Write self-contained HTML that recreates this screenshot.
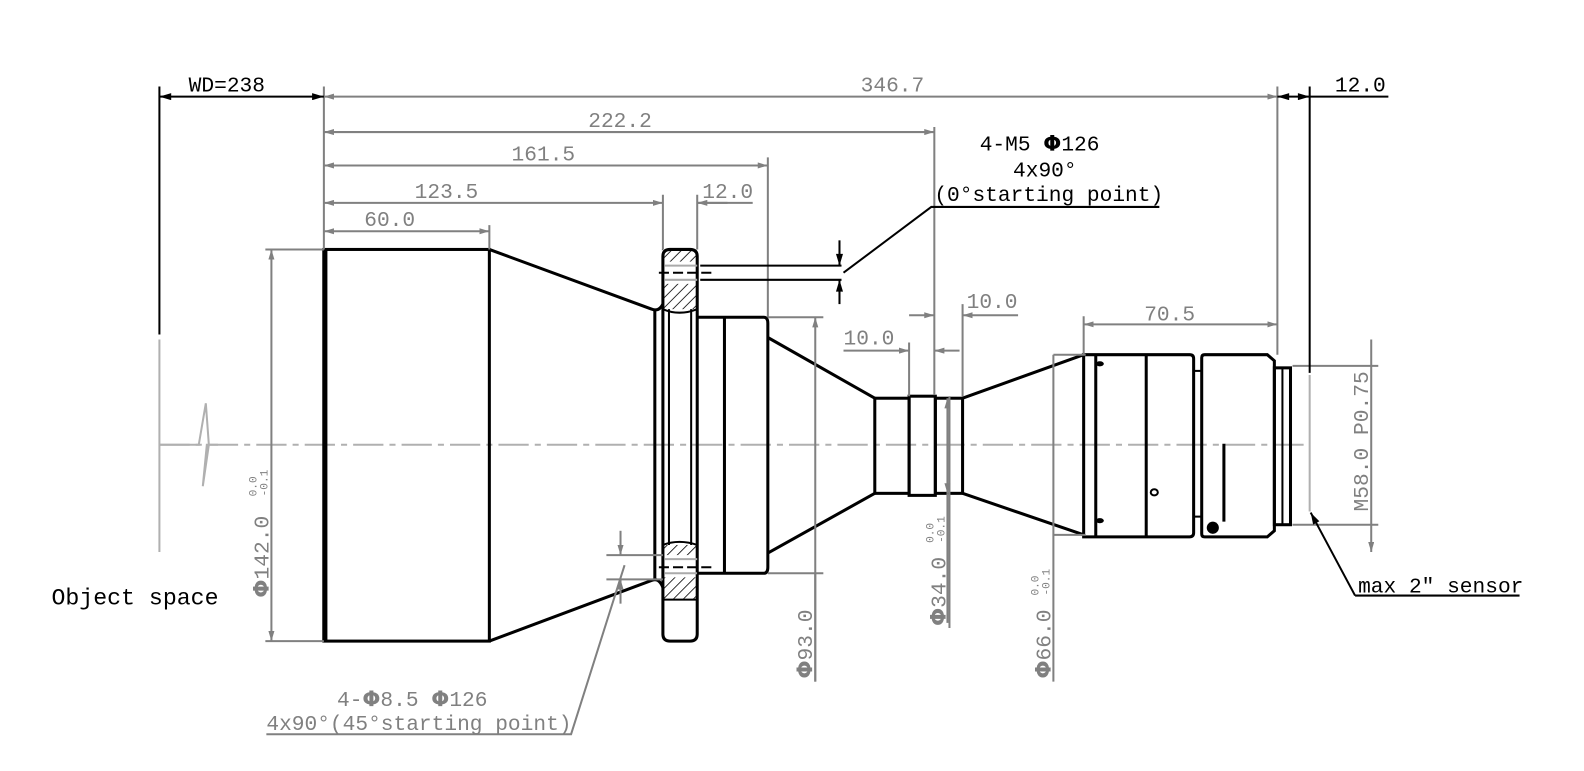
<!DOCTYPE html>
<html><head><meta charset="utf-8"><style>
html,body{margin:0;padding:0;background:#fff;}
svg{display:block}
text{font-family:"Liberation Mono","DejaVu Sans Mono",monospace;}
.g{stroke:#808080;stroke-width:2;fill:none}
.k{stroke:#000;stroke-width:3;fill:none}
.k2{stroke:#000;stroke-width:2;fill:none}
.t{fill:#808080;font-size:21px}
.tb{fill:#000;font-size:21px}
.ph{font-family:"DejaVu Sans",sans-serif;font-weight:bold}
</style></head><body>
<svg width="1584" height="771" viewBox="0 0 1584 771" xmlns="http://www.w3.org/2000/svg">
<defs>
<marker id="ag" viewBox="0 0 10 6" refX="10" refY="3" markerWidth="10" markerHeight="6" markerUnits="userSpaceOnUse" orient="auto-start-reverse"><path d="M0,0L10,3L0,6z" fill="#808080"/></marker>
<marker id="ak" viewBox="0 0 10 6" refX="10" refY="3" markerWidth="12" markerHeight="7" markerUnits="userSpaceOnUse" orient="auto-start-reverse"><path d="M0,0L10,3L0,6z" fill="#000"/></marker>
<pattern id="h" width="7" height="7" patternUnits="userSpaceOnUse" patternTransform="rotate(45)"><line x1="0" y1="0" x2="0" y2="7" stroke="#000" stroke-width="1.6"/></pattern>
</defs>
<g transform="translate(1,0.5) scale(1.009,1.012)">
<line x1="157" y1="439" x2="1297" y2="439" stroke="#b0b0b0" stroke-width="2" stroke-dasharray="30,6,6,6"/>
<path d="M157,335V545M157,439H196L203,398L206,439L200,480L204,439H215" stroke="#b0b0b0" stroke-width="2" fill="none"/>
<line x1="1297" y1="370" x2="1297" y2="505" stroke="#b0b0b0" stroke-width="2"/>

<rect x="320" y="246" width="164" height="387" class="k"/>
<line x1="321" y1="246" x2="321" y2="633" stroke="#000" stroke-width="5"/>
<path d="M484,246L645,305Q652,308 656,300" class="k"/>
<path d="M484,633L645,573Q652,570 656,580" class="k"/>
<rect x="655" y="246" width="34" height="59" fill="url(#h)"/>
<rect x="655" y="538" width="34" height="54" fill="url(#h)"/>
<rect x="655" y="258" width="34" height="22" fill="#fff"/>
<rect x="655" y="548" width="34" height="22" fill="#fff"/>
<path d="M663,246H683Q690,246 690,253V626Q690,633 683,633H663Q656,633 656,626V253Q656,246 663,246Z" class="k"/>
<path d="M656,305Q672,312 690,305" class="k2"/>
<path d="M656,538Q672,532 690,538M656,592H690" class="k2"/>
<line x1="648" y1="305" x2="648" y2="573" class="k"/>
<line x1="662" y1="305" x2="662" y2="538" class="k2"/>
<line x1="684" y1="305" x2="684" y2="538" class="k2"/>
<path d="M658,262H690M658,276H690M658,552H690M658,566H690" stroke="#aaa" stroke-width="2"/>
<path d="M652,269H705M652,560H705" stroke="#000" stroke-width="2" stroke-dasharray="10,4"/>
<path d="M690,313H756Q760,313 760,319V560Q760,566 756,566H690" class="k"/>
<line x1="717" y1="313" x2="717" y2="566" class="k"/>
<path d="M760,333L866,393M760,546L866,487" class="k"/>
<rect x="866" y="393" width="34" height="94" class="k"/>
<rect x="900" y="391" width="26" height="98" class="k"/>
<rect x="926" y="393" width="27" height="94" class="k"/>
<path d="M953,393L1073,350M953,487L1073,528" class="k"/>
<path d="M1073,350H1178Q1182,350 1182,354V526Q1182,530 1178,530H1073Z" class="k"/>
<line x1="1085" y1="350" x2="1085" y2="530" class="k"/>
<line x1="1135" y1="350" x2="1135" y2="530" class="k"/>
<rect x="1182" y="366" width="8" height="144" class="k2"/>
<path d="M1193,350H1255L1262,356V524L1255,530H1193Q1190,530 1190,527V353Q1190,350 1193,350Z" class="k"/>
<rect x="1262" y="363" width="16" height="155" class="k"/>
<line x1="1270" y1="363" x2="1270" y2="518" class="k2"/>
<line x1="1212" y1="438" x2="1212" y2="515" class="k"/>
<ellipse cx="1089" cy="359" rx="4" ry="2.5" fill="#000"/>
<ellipse cx="1089" cy="514" rx="4" ry="2.5" fill="#000"/>
<ellipse cx="1143" cy="486" rx="3.5" ry="3" class="k2"/>
<circle cx="1201" cy="521" r="6" fill="#000"/>

<path d="M320,85V246M1265,85V350M925,125V390M760,155V313M656,192V246M690,192V246M484,222V246M900,338V391M953,300V391M1073,312V350M262,246H320M262,633H320M760,313H815M760,566H815M940,391V620M1043,350H1075M1043,528H1075M1280,361H1365M1280,518H1365" class="g"/>
<path d="M807,313V673M1043,350V673M1358,335V545" class="g" marker-start="url(#ag)" marker-end="url(#ag)"/>
<line x1="268" y1="246" x2="268" y2="633" class="g" marker-start="url(#ag)" marker-end="url(#ag)"/>
<line x1="938" y1="393" x2="938" y2="487" class="g" marker-start="url(#ag)" marker-end="url(#ag)"/>
<line x1="938" y1="487" x2="938" y2="615" class="g"/>
<line x1="807" y1="566" x2="807" y2="673" class="g"/>
<line x1="320" y1="95" x2="1265" y2="95" class="g" marker-start="url(#ag)" marker-end="url(#ag)"/>
<line x1="320" y1="130" x2="925" y2="130" class="g" marker-start="url(#ag)" marker-end="url(#ag)"/>
<line x1="320" y1="163" x2="760" y2="163" class="g" marker-start="url(#ag)" marker-end="url(#ag)"/>
<line x1="320" y1="200" x2="656" y2="200" class="g" marker-start="url(#ag)" marker-end="url(#ag)"/>
<line x1="320" y1="228" x2="484" y2="228" class="g" marker-start="url(#ag)" marker-end="url(#ag)"/>
<line x1="1073" y1="320" x2="1265" y2="320" class="g" marker-start="url(#ag)" marker-end="url(#ag)"/>
<path d="M690,200H745" class="g"/>
<line x1="720" y1="200" x2="690" y2="200" class="g" marker-end="url(#ag)"/>
<line x1="900" y1="311" x2="925" y2="311" class="g" marker-end="url(#ag)"/>
<line x1="1008" y1="311" x2="953" y2="311" class="g" marker-end="url(#ag)"/>
<line x1="835" y1="346" x2="900" y2="346" class="g" marker-end="url(#ag)"/>
<line x1="950" y1="346" x2="925" y2="346" class="g" marker-end="url(#ag)"/>
<line x1="157" y1="85" x2="157" y2="330" stroke="#000" stroke-width="2"/>
<line x1="1297" y1="85" x2="1297" y2="368" stroke="#000" stroke-width="2"/>
<line x1="157" y1="95" x2="320" y2="95" stroke="#000" stroke-width="2" marker-start="url(#ak)" marker-end="url(#ak)"/>
<line x1="1265" y1="95" x2="1297" y2="95" stroke="#000" stroke-width="2" marker-start="url(#ak)" marker-end="url(#ak)"/>
<line x1="1297" y1="95" x2="1375" y2="95" stroke="#000" stroke-width="2"/>
<path d="M693,262H833M693,276H833" stroke="#000" stroke-width="2"/>
<line x1="831" y1="237" x2="831" y2="262" stroke="#000" stroke-width="2" marker-end="url(#ak)"/>
<line x1="831" y1="300" x2="831" y2="276" stroke="#000" stroke-width="2" marker-end="url(#ak)"/>
<path d="M835,269L922,204H1148" stroke="#000" stroke-width="2" fill="none"/>
<line x1="1342" y1="588" x2="1298" y2="506" stroke="#000" stroke-width="2" marker-end="url(#ak)"/>
<line x1="1342" y1="588" x2="1505" y2="588" stroke="#000" stroke-width="2"/>
<path d="M600,548H656M600,572H656" class="g"/>
<line x1="614" y1="524" x2="614" y2="548" class="g" marker-end="url(#ag)"/>
<line x1="614" y1="596" x2="614" y2="572" class="g" marker-end="url(#ag)"/>
<path d="M263,725H565L618,558" class="g"/>

<text x="186" y="90" class="tb">WD=238</text>
<text x="852" y="90" class="t">346.7</text>
<text x="1322" y="90" class="tb">12.0</text>
<text x="582" y="125" class="t">222.2</text>
<text x="506" y="158" class="t">161.5</text>
<text x="410" y="195" class="t">123.5</text>
<text x="695" y="195" class="t">12.0</text>
<text x="360" y="223" class="t">60.0</text>
<text x="970" y="148" class="tb">4-M5 <tspan class="ph">Φ</tspan>126</text>
<text x="1003" y="174" class="tb">4x90°</text>
<text x="925" y="198" class="tb">(0°starting point)</text>
<text x="957" y="304" class="t">10.0</text>
<text x="835" y="340" class="t">10.0</text>
<text x="1133" y="316" class="t">70.5</text>
<text x="50" y="597" class="tb" style="font-size:23px">Object space</text>
<text x="1345" y="585" class="tb">max 2″ sensor</text>
<text x="333" y="697" class="t">4-<tspan class="ph">Φ</tspan>8.5 <tspan class="ph">Φ</tspan>126</text>
<text x="263" y="721" class="t">4x90°(45°starting point)</text>
<g transform="translate(265,590) rotate(-90)"><text class="t"><tspan class="ph">Φ</tspan>142.0</text><text x="100" y="-12" class="t" style="font-size:11px">0.0</text><text x="100" y="-1" class="t" style="font-size:11px">-0.1</text></g>
<g transform="translate(804,670) rotate(-90)"><text class="t"><tspan class="ph">Φ</tspan>93.0</text></g>
<g transform="translate(936,618) rotate(-90)"><text class="t"><tspan class="ph">Φ</tspan>34.0</text><text x="82" y="-12" class="t" style="font-size:11px">0.0</text><text x="82" y="-1" class="t" style="font-size:11px">-0.1</text></g>
<g transform="translate(1040,670) rotate(-90)"><text class="t"><tspan class="ph">Φ</tspan>66.0</text><text x="82" y="-12" class="t" style="font-size:11px">0.0</text><text x="82" y="-1" class="t" style="font-size:11px">-0.1</text></g>
<g transform="translate(1355,505) rotate(-90)"><text class="t">M58.0 P0.75</text></g>
</g>
</svg>
</body></html>
